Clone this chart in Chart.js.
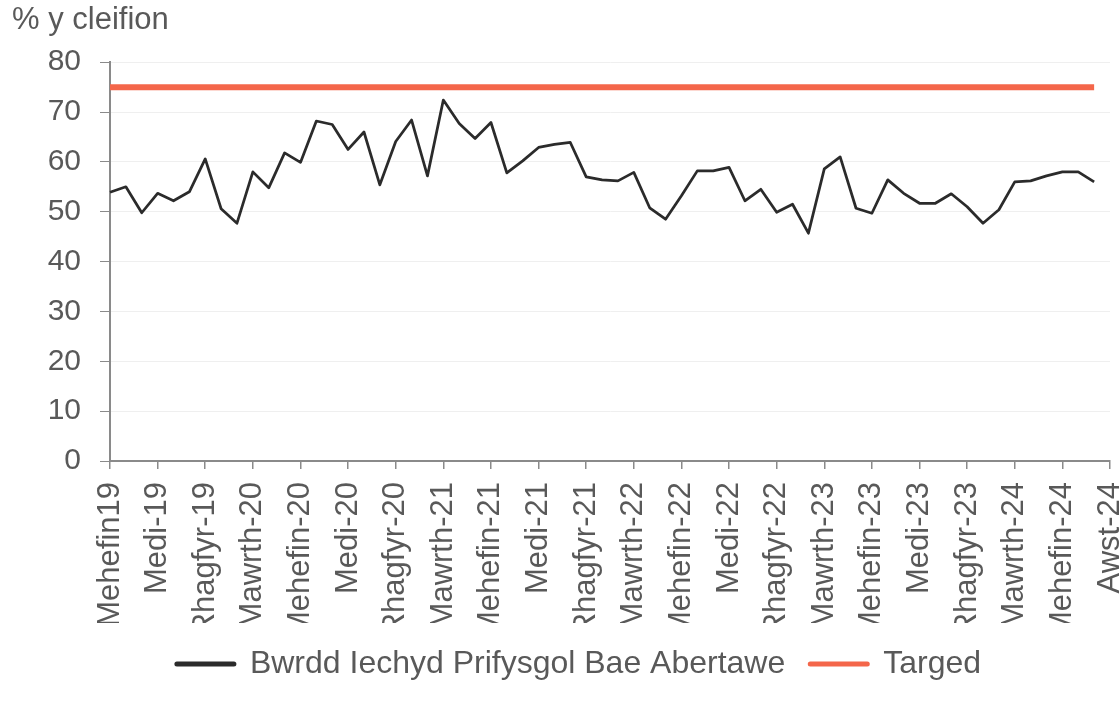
<!DOCTYPE html>
<html>
<head>
<meta charset="utf-8">
<title>% y cleifion</title>
<script src="https://cdn.jsdelivr.net/npm/chart.js@4.4.1/dist/chart.umd.min.js"></script>
<style>
    html, body { margin: 0; padding: 0; background: #ffffff; }
    #wrap { width: 1120px; height: 710px; position: relative; }
</style>
</head>
<body>
<div id="wrap"><canvas id="waitChart"></canvas></div>
<script>
// monthly categories, Jun 2019 - Aug 2024
const months = [
    'Mehefin19', 'Gorffennaf-19', 'Awst-19', 'Medi-19', 'Hydref-19', 'Tachwedd-19', 'Rhagfyr-19',
    'Ionawr-20', 'Chwefror-20', 'Mawrth-20', 'Ebrill-20', 'Mai-20', 'Mehefin-20',
    'Gorffennaf-20', 'Awst-20', 'Medi-20', 'Hydref-20', 'Tachwedd-20', 'Rhagfyr-20',
    'Ionawr-21', 'Chwefror-21', 'Mawrth-21', 'Ebrill-21', 'Mai-21', 'Mehefin-21',
    'Gorffennaf-21', 'Awst-21', 'Medi-21', 'Hydref-21', 'Tachwedd-21', 'Rhagfyr-21',
    'Ionawr-22', 'Chwefror-22', 'Mawrth-22', 'Ebrill-22', 'Mai-22', 'Mehefin-22',
    'Gorffennaf-22', 'Awst-22', 'Medi-22', 'Hydref-22', 'Tachwedd-22', 'Rhagfyr-22',
    'Ionawr-23', 'Chwefror-23', 'Mawrth-23', 'Ebrill-23', 'Mai-23', 'Mehefin-23',
    'Gorffennaf-23', 'Awst-23', 'Medi-23', 'Hydref-23', 'Tachwedd-23', 'Rhagfyr-23',
    'Ionawr-24', 'Chwefror-24', 'Mawrth-24', 'Ebrill-24', 'Mai-24', 'Mehefin-24',
    'Gorffennaf-24', 'Awst-24'
];

const boardValues = [
    53.9, 55.0, 49.8, 53.7, 52.2, 54.0, 60.6,
    50.6, 47.7, 58.0, 54.8, 61.8, 59.9, 68.2, 67.5, 62.5, 66.0, 55.4, 64.1,
    68.4, 57.2, 72.4, 67.7, 64.7, 67.9, 57.8, 60.2, 62.9, 63.5, 63.9, 57.0,
    56.4, 56.2, 57.9, 50.8, 48.5, 53.2, 58.2, 58.2, 58.9, 52.2, 54.5, 49.9,
    51.5, 45.7, 58.6, 61.0, 50.7, 49.7, 56.4, 53.7, 51.7, 51.7, 53.6, 51.0,
    47.7, 50.4, 56.0, 56.2, 57.2, 58.0, 58.0, 56.0
];

const targetValues = [
    75, 75, 75, 75, 75, 75, 75,
    75, 75, 75, 75, 75, 75, 75, 75, 75, 75, 75, 75,
    75, 75, 75, 75, 75, 75, 75, 75, 75, 75, 75, 75,
    75, 75, 75, 75, 75, 75, 75, 75, 75, 75, 75, 75,
    75, 75, 75, 75, 75, 75, 75, 75, 75, 75, 75, 75,
    75, 75, 75, 75, 75, 75, 75, 75
];

const seriesNames = ['Bwrdd Iechyd Prifysgol Bae Abertawe', 'Targed'];
const yTicks = [0, 10, 20, 30, 40, 50, 60, 70, 80];
const endTickLabel = 'Awst-24';

const TEXT = '#595959';
const AXIS = '#8a8a8a';
const FONT = "'Liberation Sans', Arial, sans-serif";

// the original axis runs one slot past the last month
const axisLabels = [...months, ''];
const lastSlot = axisLabels.length - 1;

// legend in the original sits a little right of the canvas centre
const legendNudge = {
    id: 'legendNudge',
    afterLayout(chart) {
        chart.legend.left += 18;
        chart.legend.right += 18;
    }
};

function createChart() {
    const ctx = document.getElementById('waitChart').getContext('2d');
    return new Chart(ctx, {
        type: 'line',
        data: {
            labels: axisLabels,
            datasets: [{
                label: seriesNames[0],
                data: boardValues,
                borderColor: '#2b2b2b',
                backgroundColor: '#2b2b2b',
                borderWidth: 2.75,
                pointRadius: 0,
                tension: 0,
                borderJoinStyle: 'round'
            }, {
                label: seriesNames[1],
                data: targetValues,
                borderColor: '#f4664a',
                backgroundColor: '#f4664a',
                borderWidth: 6,
                pointRadius: 0,
                tension: 0
            }]
        },
        options: {
            responsive: true,
            maintainAspectRatio: false,
            animation: false,
            layout: { padding: { left: 12, right: 10, top: 2, bottom: 20 } },
            plugins: {
                tooltip: { enabled: false },
                title: {
                    display: true,
                    text: '% y cleifion',
                    align: 'start',
                    color: TEXT,
                    font: { family: FONT, size: 31, weight: 'normal' },
                    padding: { top: 0, bottom: 23 }
                },
                legend: {
                    position: 'bottom',
                    labels: {
                        color: TEXT,
                        font: { family: FONT, size: 32 },
                        usePointStyle: true,
                        pointStyle: 'line',
                        pointStyleWidth: 57,
                        padding: 25,
                        generateLabels(chart) {
                            const items = Chart.defaults.plugins.legend.labels.generateLabels(chart);
                            items.forEach(item => {
                                item.lineWidth = 5;
                                item.lineCap = 'round';
                                item.pointStyle = 'line';
                            });
                            return items;
                        }
                    }
                }
            },
            scales: {
                x: {
                    grid: {
                        drawOnChartArea: false,
                        tickLength: 8,
                        tickColor: AXIS,
                        lineWidth: 1.5
                    },
                    border: { color: AXIS, width: 2 },
                    ticks: {
                        autoSkip: false,
                        minRotation: 90,
                        maxRotation: 90,
                        padding: 13,
                        color: TEXT,
                        font: { family: FONT, size: 31 },
                        callback: (value) => value === lastSlot ? endTickLabel : axisLabels[value]
                    },
                    afterBuildTicks: (scale) => {
                        scale.ticks = scale.ticks.filter(t => t.value % 3 === 0 || t.value === lastSlot);
                    },
                    afterFit: (scale) => {
                        scale.height = 162;
                        scale.paddingLeft = 0;
                        scale.paddingRight = 0;
                    }
                },
                y: {
                    min: 0,
                    max: 80,
                    grid: {
                        color: '#efefef',
                        lineWidth: 1,
                        tickLength: 10,
                        tickColor: AXIS
                    },
                    border: { color: AXIS, width: 2 },
                    ticks: {
                        stepSize: 10,
                        padding: 19,
                        color: TEXT,
                        font: { family: FONT, size: 30 }
                    },
                    afterBuildTicks: (scale) => {
                        scale.ticks = yTicks.map(v => ({ value: v }));
                    },
                    afterFit: (scale) => {
                        scale.width = 98;
                        scale.paddingTop = 0;
                        scale.paddingBottom = 0;
                    }
                }
            }
        },
        plugins: [legendNudge]
    });
}

document.addEventListener('DOMContentLoaded', () => {
    createChart();
});
</script>
</body>
</html>
